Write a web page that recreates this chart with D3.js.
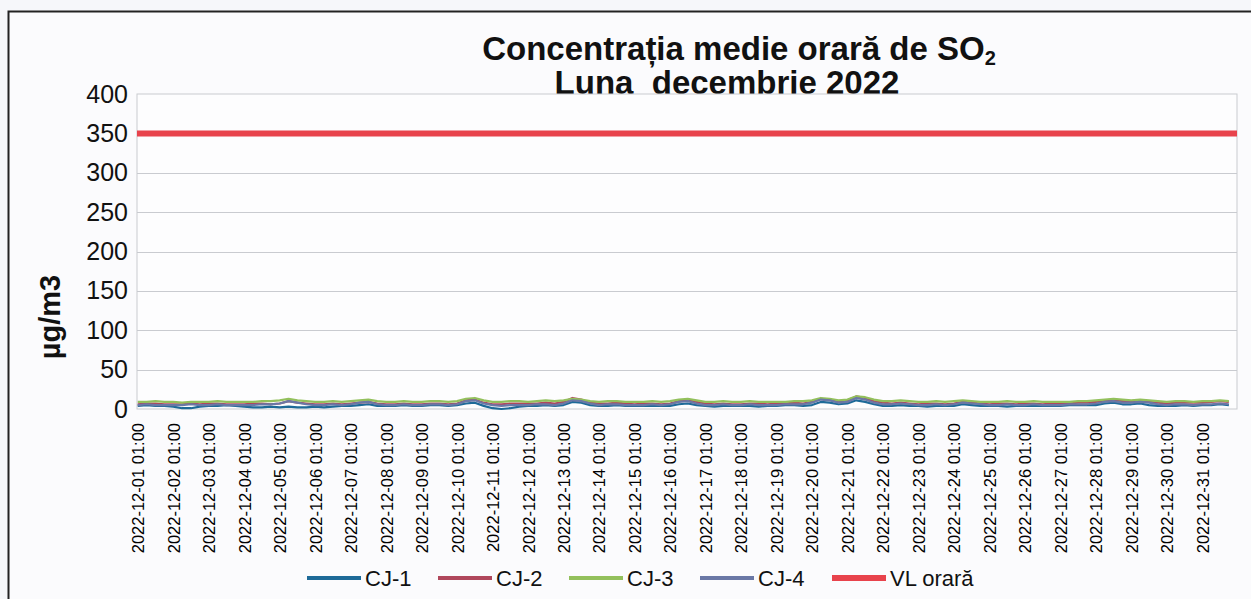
<!DOCTYPE html>
<html>
<head>
<meta charset="utf-8">
<script src="https://cdn.jsdelivr.net/npm/d3@7"></script>
<style>
	body { margin: 0; background: #f6f7fa; }
	svg { display: block; font-family: Arial, 'Liberation Sans', sans-serif; }
</style>
</head>
<body>
<svg id="chart" width="1251" height="599"></svg>
<script>
'use strict';

// 6-hourly readings (4 per day, 31 days)
const CJ_1 = [
	4, 5, 4, 4, 3, 1, 1, 3, 4, 4, 5, 4, 3, 2, 2, 3, 2, 3, 2, 2, 3, 2, 3, 4,
	4, 5, 6, 4, 4, 4, 5, 4, 4, 5, 5, 4, 5, 7, 8, 4, 1, 0, 1, 3, 4, 4, 5, 4,
	5, 9, 8, 5, 4, 4, 5, 4, 4, 4, 4, 4, 4, 6, 7, 5, 4, 3, 4, 4, 4, 4, 3, 4,
	4, 5, 5, 4, 5, 9, 8, 6, 7, 11, 9, 6, 4, 4, 5, 4, 4, 3, 4, 4, 4, 6, 5, 4,
	4, 4, 3, 4, 4, 4, 4, 4, 4, 5, 5, 5, 5, 7, 8, 6, 6, 7, 5, 4, 4, 4, 5, 4,
	5, 5, 6, 5];
const CJ_2 = [
	6, 7, 7, 6, 6, 6, 7, 6, 7, 7, 6, 6, 6, 7, 7, 6, 7, 10, 8, 7, 6, 6, 7, 6,
	7, 8, 9, 7, 6, 6, 7, 6, 6, 7, 7, 6, 7, 11, 12, 8, 6, 6, 7, 7, 7, 7, 8, 7,
	9, 14, 12, 8, 7, 7, 8, 7, 6, 7, 7, 6, 7, 10, 12, 9, 7, 6, 7, 6, 6, 7, 7, 6,
	7, 7, 8, 7, 9, 13, 12, 9, 11, 16, 14, 10, 8, 7, 8, 7, 6, 7, 7, 6, 7, 9, 8, 7,
	6, 7, 7, 6, 7, 7, 6, 7, 7, 7, 8, 8, 9, 11, 12, 10, 10, 11, 9, 8, 7, 8, 8, 8,
	8, 9, 10, 9];
const CJ_3 = [
	9, 9, 10, 9, 9, 8, 9, 9, 9, 10, 9, 9, 9, 9, 10, 10, 11, 13, 11, 10, 9, 9, 10, 9,
	10, 11, 12, 10, 9, 9, 10, 9, 9, 10, 10, 9, 10, 13, 14, 11, 9, 9, 10, 10, 9, 10, 11, 10,
	11, 13, 12, 10, 9, 10, 10, 9, 9, 9, 10, 9, 10, 12, 13, 11, 9, 9, 10, 9, 9, 10, 9, 9,
	9, 9, 10, 10, 11, 14, 13, 11, 12, 16, 15, 12, 10, 10, 11, 10, 9, 9, 10, 9, 10, 11, 10, 9,
	9, 9, 10, 9, 9, 10, 9, 9, 9, 9, 10, 10, 11, 12, 13, 12, 11, 12, 11, 10, 9, 10, 10, 9,
	10, 10, 11, 10];
const CJ_4 = [
	5, 6, 5, 5, 5, 5, 6, 5, 5, 6, 5, 5, 5, 5, 6, 6, 7, 10, 8, 6, 5, 5, 6, 5,
	6, 8, 9, 6, 5, 5, 6, 5, 5, 6, 6, 5, 6, 10, 11, 7, 5, 4, 5, 5, 5, 6, 6, 5,
	7, 11, 10, 7, 5, 6, 6, 5, 5, 5, 6, 5, 6, 9, 10, 7, 5, 5, 6, 5, 5, 6, 5, 5,
	5, 6, 6, 6, 8, 12, 11, 8, 9, 14, 12, 8, 6, 6, 7, 6, 5, 5, 6, 5, 6, 8, 7, 6,
	5, 5, 6, 5, 5, 6, 5, 5, 5, 6, 6, 6, 7, 9, 10, 8, 8, 9, 8, 6, 5, 6, 6, 5,
	6, 6, 7, 6];
const VL_ORARA = 350;

const SERIES_NAMES = ['CJ-1', 'CJ-2', 'CJ-3', 'CJ-4'];
const SERIES_COLORS = ['#1d6a98', '#b0475c', '#93c05c', '#6a78a6'];
const VL_COLOR = '#e8434c';
const Y_TICKS = [0, 50, 100, 150, 200, 250, 300, 350, 400];
const DAYS = d3.range(1, 32);
const HOURS_TOTAL = 744, STEP_HOURS = 6;

let svg = d3.select('#chart');
let margin = { left: 137, right: 1237, top: 94, bottom: 409 };

let x = d3.scaleLinear().domain([0, HOURS_TOTAL]).range([margin.left, margin.right]),
	y = d3.scaleLinear().domain([0, 400]).range([margin.bottom, margin.top]);

// outer frame
svg.append('rect')
	.attr('x', 8.5).attr('y', 11.5).attr('width', 1260).attr('height', 600)
	.attr('fill', '#fbfbfd').attr('stroke', '#222').attr('stroke-width', 2);

// title
let title = svg.append('text')
	.attr('text-anchor', 'middle')
	.style('font-weight', 'bold').style('font-size', '33px').attr('fill', '#111');
let t1 = title.append('tspan').attr('x', 739).attr('y', 60);
t1.append('tspan').text('Concentrația medie orară de SO');
t1.append('tspan').text('2').style('font-size', '20px').attr('dy', 5);
title.append('tspan').attr('x', 727).attr('y', 94)
	.attr('xml:space', 'preserve').style('white-space', 'pre')
	.text('Luna  decembrie 2022');

// plot area + gridlines
svg.append('rect')
	.attr('x', margin.left).attr('y', margin.top)
	.attr('width', margin.right - margin.left).attr('height', margin.bottom - margin.top)
	.attr('fill', '#fdfdfe').attr('stroke', '#c9cbd0');

svg.append('g').selectAll('line').data(Y_TICKS.slice(1, -1)).enter().append('line')
	.attr('x1', margin.left).attr('x2', margin.right)
	.attr('y1', d => Math.round(y(d)) + 0.5).attr('y2', d => Math.round(y(d)) + 0.5)
	.attr('stroke', '#c9cbd0');

// y axis labels
let yAxis = svg.append('g')
	.attr('transform', `translate(${margin.left},0)`)
	.call(d3.axisLeft(y).tickValues(Y_TICKS).tickSize(0).tickPadding(9));
yAxis.select('.domain').remove();
yAxis.selectAll('text').style('font-size', '25px').attr('fill', '#111').attr('font-family', 'Arial, Liberation Sans, sans-serif');

svg.append('text')
	.attr('transform', 'translate(60,317) rotate(-90)')
	.attr('text-anchor', 'middle')
	.style('font-weight', 'bold').style('font-size', '29px').attr('fill', '#111')
	.text('µg/m3');

// x axis: one label per day, rotated
let xAxis = svg.append('g')
	.attr('transform', `translate(0,${margin.bottom})`)
	.call(d3.axisBottom(x)
		.tickValues(DAYS.map(d => (d - 1) * 24 + 0.5))
		.tickSize(0)
		.tickFormat((h, i) => `2022-12-${String(DAYS[i]).padStart(2, '0')} 01:00`));
xAxis.select('.domain').remove();
xAxis.selectAll('text')
	.attr('transform', 'rotate(-90)')
	.attr('text-anchor', 'end')
	.attr('x', -14).attr('y', 0).attr('dy', '0.36em')
	.style('font-size', '16.5px').attr('fill', '#000')
	.attr('font-family', 'Arial, Liberation Sans, sans-serif');

// series
let line = d3.line()
	.x((d, i) => x(i * STEP_HOURS + 0.5))
	.y(d => y(d));

[CJ_1, CJ_2, CJ_3, CJ_4].forEach((values, k) => {
	svg.append('path')
		.datum(values)
		.attr('d', line)
		.attr('fill', 'none')
		.attr('stroke', SERIES_COLORS[k])
		.attr('stroke-width', 2.2)
		.attr('stroke-linejoin', 'round');
});

svg.append('line')
	.attr('x1', margin.left).attr('x2', margin.right)
	.attr('y1', y(VL_ORARA)).attr('y2', y(VL_ORARA))
	.attr('stroke', VL_COLOR).attr('stroke-width', 6);

// legend
let legendItems = SERIES_NAMES.map((name, k) => ({ name, color: SERIES_COLORS[k], w: 4 }))
	.concat([{ name: 'VL orară', color: VL_COLOR, w: 6 }]);
let legendX = [307, 438, 569, 700, 832];

let legend = svg.append('g').selectAll('g').data(legendItems).enter().append('g')
	.attr('transform', (d, i) => `translate(${legendX[i]},578)`);
legend.append('line')
	.attr('x1', 0).attr('x2', 54)
	.attr('stroke', d => d.color).attr('stroke-width', d => d.w);
legend.append('text')
	.attr('x', 58).attr('dy', '0.36em')
	.style('font-size', '22px').attr('fill', '#111')
	.text(d => d.name);
</script>
</body>
</html>
